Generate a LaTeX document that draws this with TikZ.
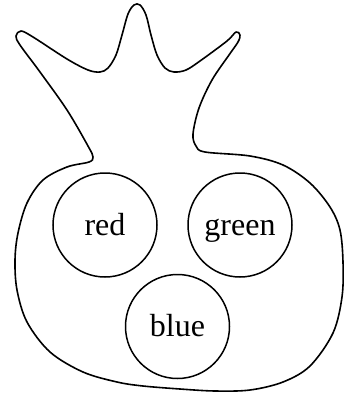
\documentclass[tikz,border=0pt]{standalone}
\usepackage{fontspec}
\setmainfont{Liberation Serif}
\begin{document}
\begin{tikzpicture}[x=1pt,y=-1pt,
  outline/.style={line width=1.6pt, line join=round},
  seed/.style={circle, draw, line width=1.5pt, minimum size=104pt, inner sep=0pt,
    text height=20pt, text depth=0pt, font=\fontsize{32}{36}\selectfont}]
\useasboundingbox (0,0) rectangle (344,394);
\draw[outline] plot[smooth cycle, tension=0.55] coordinates {
 (16,36) (21,31) (33,37) (67,59) (88,70) (100,72) (108,68) (116,55) (122,35)
 (128,14) (134,5) (140,5) (146,15) (151,35) (157,55) (165,68) (174,72) (186,70)
 (200,61) (227,41) (236,32) (240,35) (238,42) (229,55) (212,80) (199,108)
 (193,134) (196,146) (205,152) (250,156) (283,165) (310,183) (330,207)
 (340,230) (343,262) (342,297) (333,333) (310,366) (283,382) (250,390)
 (215,391) (180,389) (143,386) (117,382) (83,372) (50,352) (27,322)
 (17,290) (15,260) (18,233) (27,203) (43,180) (67,167) (89,162) (93,157)
 (88,146) (67,110) (40,72) (20,45)};
\node[seed] (red) at (105,225) {red};
\node[seed] (green) at (240,225) {green};
\node[seed] (blue) at (177.5,326.5) {blue};
\end{tikzpicture}
\end{document}
